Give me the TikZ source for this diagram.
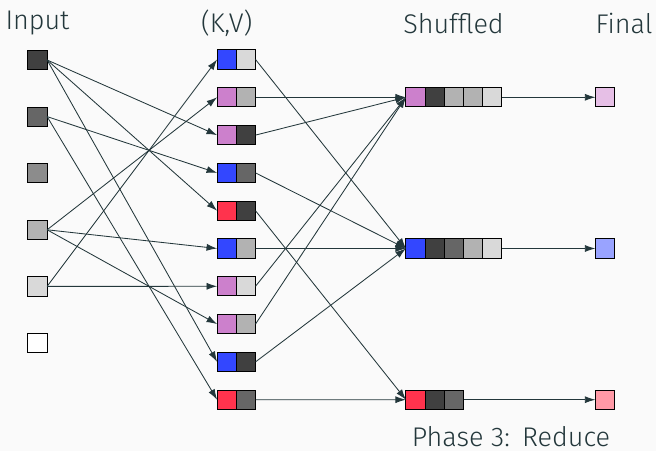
\documentclass[tikz,border=0pt]{standalone}
\usepackage{fontspec}
\setmainfont{Fira Sans}[UprightFont={* Light}]
\usetikzlibrary{arrows.meta, positioning}
\definecolor{paper}{RGB}{250, 250, 250}
\definecolor{darkteal}{RGB}{35, 55, 59}
\definecolor{keyblue}{RGB}{51, 71, 255}
\definecolor{keypink}{RGB}{204, 128, 204}
\definecolor{keyred}{RGB}{255, 51, 77}

\tikzset{
  cell/.style={draw=black, line width=0.7pt, minimum size=4.8mm,
    inner sep=0pt, outer sep=0pt},
  link/.style={darkteal, line width=0.6pt, -{Latex[length=7.5pt, width=5pt]}},
  heading/.style={darkteal, inner sep=1pt, font=\fontsize{19.2}{23}\selectfont},
}

\begin{document}
\begin{tikzpicture}[x=0.025cm, y=-0.025cm]
  \useasboundingbox (0,0) rectangle (656,451);
  \fill[paper] (0,0) rectangle (656,451);

  % column titles
  \node[heading] (tin)    at (37.5, 23.5)  {Input};
  \node[heading] (tkv)    at (226.7, 23.5) {(K,V)};
  \node[heading] (tshuf)  at (453.5, 23.5) {Shuffled};
  \node[heading] (tfinal) at (624, 23.5)   {Final};
  \node[heading] (tphase) at (511, 437)    {Phase 3:\hspace{0.45em}Reduce};

  % input records, dark to white
  \foreach \g [count=\i] in {75,60,45,30,15,0}
    \node[cell, fill=black!\g] (in\i) at (37.5, {60+56.6*(\i-1)}) {};

  % mapped key/value pairs
  \foreach \kc/\g [count=\k] in {keyblue/15, keypink/30, keypink/75, keyblue/60,
      keyred/75, keyblue/30, keypink/15, keypink/30, keyblue/75, keyred/60} {
    \node[cell, fill=\kc] (k\k) at (226.7, {59.5+37.8*(\k-1)}) {};
    \node[cell, fill=black!\g, right=0pt of k\k] (v\k) {};
  }

  % map step
  \foreach \a/\b in {1/3, 1/5, 1/9, 2/4, 2/10, 4/2, 4/6, 4/8, 5/1, 5/7}
    \draw[link] (in\a.east) -- (k\b.west);

  % grouped rows and reduced values
  \foreach \kc/\vals/\n/\yy [count=\row] in {keypink/{75,30,30,15}/4/97.3,
      keyblue/{75,60,30,15}/4/248.5, keyred/{75,60}/2/399.7} {
    \node[cell, fill=\kc] (s\row-0) at (415.5, \yy) {};
    \foreach \g [count=\c] in \vals {
      \pgfmathtruncatemacro\prev{\c-1}
      \node[cell, fill=black!\g, right=0pt of s\row-\prev] (s\row-\c) {};
    }
    \node[cell, fill=\kc!50!white] (f\row) at (605, \yy) {};
    \draw[link] (s\row-\n.east) -- (f\row.west);
  }

  % shuffle step
  \foreach \k/\row in {2/1, 3/1, 7/1, 8/1, 1/2, 4/2, 6/2, 9/2, 5/3, 10/3}
    \draw[link] (v\k.east) -- (s\row-0.west);
\end{tikzpicture}
\end{document}
